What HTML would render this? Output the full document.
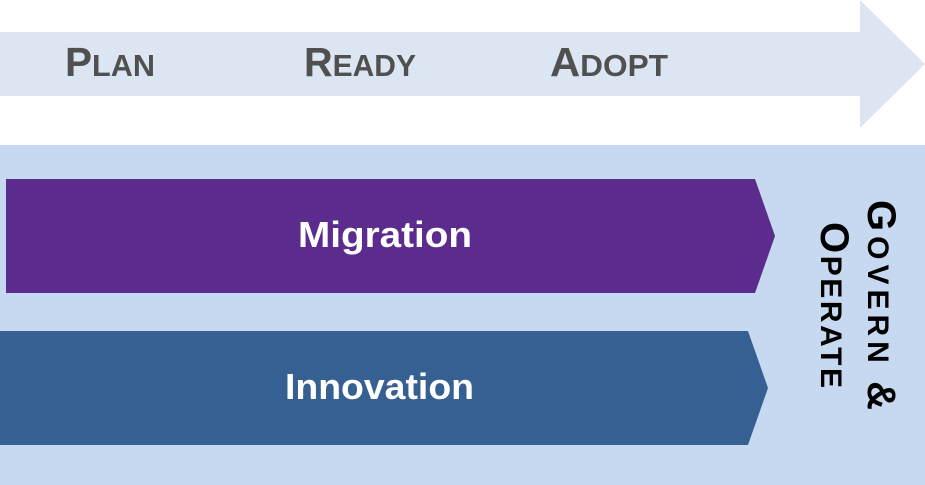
<!DOCTYPE html>
<html><head><meta charset="utf-8"><style>html,body{margin:0;padding:0;background:#fff;}svg{display:block}</style></head>
<body>
<svg width="925" height="485" viewBox="0 0 925 485" xmlns="http://www.w3.org/2000/svg" font-family="Liberation Sans, sans-serif">
<polygon points="0,32 860,32 860,0 925,64 860,128 860,96 0,96" fill="#dce6f2"/>
<g fill="#505050" font-weight="bold" font-size="41">
<text x="65" y="76" textLength="90" lengthAdjust="spacingAndGlyphs">P<tspan font-size="31">LAN</tspan></text>
<text x="304" y="76" textLength="112" lengthAdjust="spacingAndGlyphs">R<tspan font-size="31">EADY</tspan></text>
<text x="550" y="76" textLength="118" lengthAdjust="spacingAndGlyphs">A<tspan font-size="31">DOPT</tspan></text>
</g>
<rect x="0" y="145" width="925" height="340" fill="#c6d9f1"/>
<polygon points="6,179 755,179 775,236 755,293 6,293" fill="#5b2c8e"/>
<polygon points="0,331 748,331 768,388 748,445 0,445" fill="#366092"/>
<text x="298" y="247" fill="#fff" font-weight="bold" font-size="36" textLength="174" lengthAdjust="spacingAndGlyphs">Migration</text>
<text x="285" y="399" fill="#fff" font-weight="bold" font-size="36" textLength="189" lengthAdjust="spacingAndGlyphs">Innovation</text>
<g fill="#000" font-weight="bold" font-size="40">
<text transform="translate(868,200) rotate(90)" textLength="210" lengthAdjust="spacing">G<tspan font-size="30">OVERN </tspan>&amp;</text>
<text transform="translate(821,222) rotate(90)" textLength="166" lengthAdjust="spacing">O<tspan font-size="30">PERATE</tspan></text>
</g>
</svg>
</body></html>
